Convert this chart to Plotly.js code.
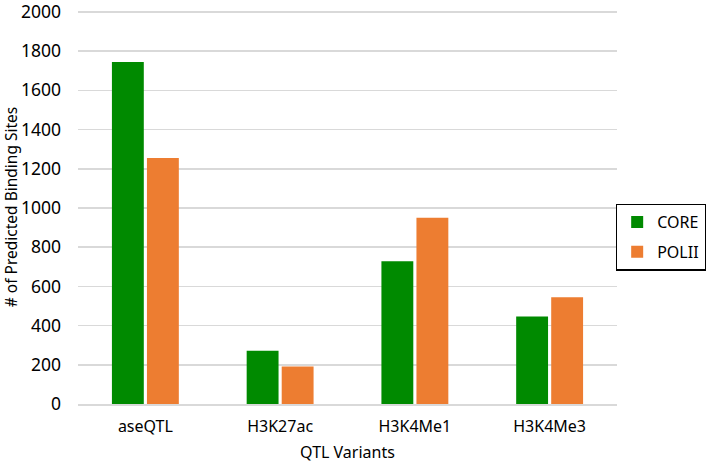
<!DOCTYPE html>
<html>
<head>
<meta charset="utf-8">
<script src="https://cdn.plot.ly/plotly-3.0.1.min.js"></script>
<style>html,body{margin:0;padding:0;background:#fff;}#chart{width:708px;height:463px;}</style>
</head>
<body>
<div id="chart"></div>
<script>
var categories = ["aseQTL", "H3K27ac", "H3K4Me1", "H3K4Me3"];
var coreValues = [1745, 272, 728, 446];
var polliValues = [1255, 191, 950, 545];
var seriesNames = ["CORE", "POLII"];
var yTicks = [0, 200, 400, 600, 800, 1000, 1200, 1400, 1600, 1800, 2000];

var font = "Noto Sans, Open Sans, sans-serif";
var traces = [
  {type: "bar", name: seriesNames[0], x: categories, y: coreValues,
   marker: {color: "#008a00", line: {width: 0}}, legendgroup: "a", hoverinfo: "x+y"},
  {type: "bar", name: seriesNames[1], x: categories, y: polliValues,
   marker: {color: "#ed7d31", line: {width: 0}}, legendgroup: "b", hoverinfo: "x+y"}
];
var layout = {
  width: 708, height: 463,
  margin: {l: 78, r: 91, t: 10, b: 59, autoexpand: false},
  paper_bgcolor: "#fff", plot_bgcolor: "#fff",
  barmode: "group", bargap: 0.48, bargroupgap: 0.09,
  font: {family: font, size: 16, color: "#000"},
  xaxis: {
    type: "category", showgrid: false, showline: true, linecolor: "#d9d9d9", linewidth: 1.5,
    ticks: "", tickfont: {size: 16, color: "#000"}, ticklabelstandoff: 7,
    title: {text: "QTL Variants", font: {size: 16, color: "#000"}, standoff: 13}
  },
  yaxis: {
    range: [0, 2010], tickvals: yTicks, ticktext: yTicks.map(String),
    showgrid: true, gridcolor: "#d9d9d9", gridwidth: 1.5, zeroline: false, showline: false,
    ticks: "", tickfont: {size: 17.5, color: "#000"}, ticklabelstandoff: 16,
    ticklabeloverflow: "allow",
    title: {text: "# of Predicted Binding Sites", font: {size: 15.5, color: "#000"}, standoff: 8}
  },
  showlegend: true,
  legend: {
    xref: "container", yref: "container",
    x: 0.997, xanchor: "right", y: 0.56, yanchor: "top",
    bordercolor: "#000", borderwidth: 1.3, bgcolor: "#fff",
    font: {size: 16, color: "#000"}, traceorder: "grouped", tracegroupgap: 6,
    itemwidth: 30
  }
};
Plotly.newPlot("chart", traces, layout, {displayModeBar: false, staticPlot: true});
</script>
</body>
</html>
